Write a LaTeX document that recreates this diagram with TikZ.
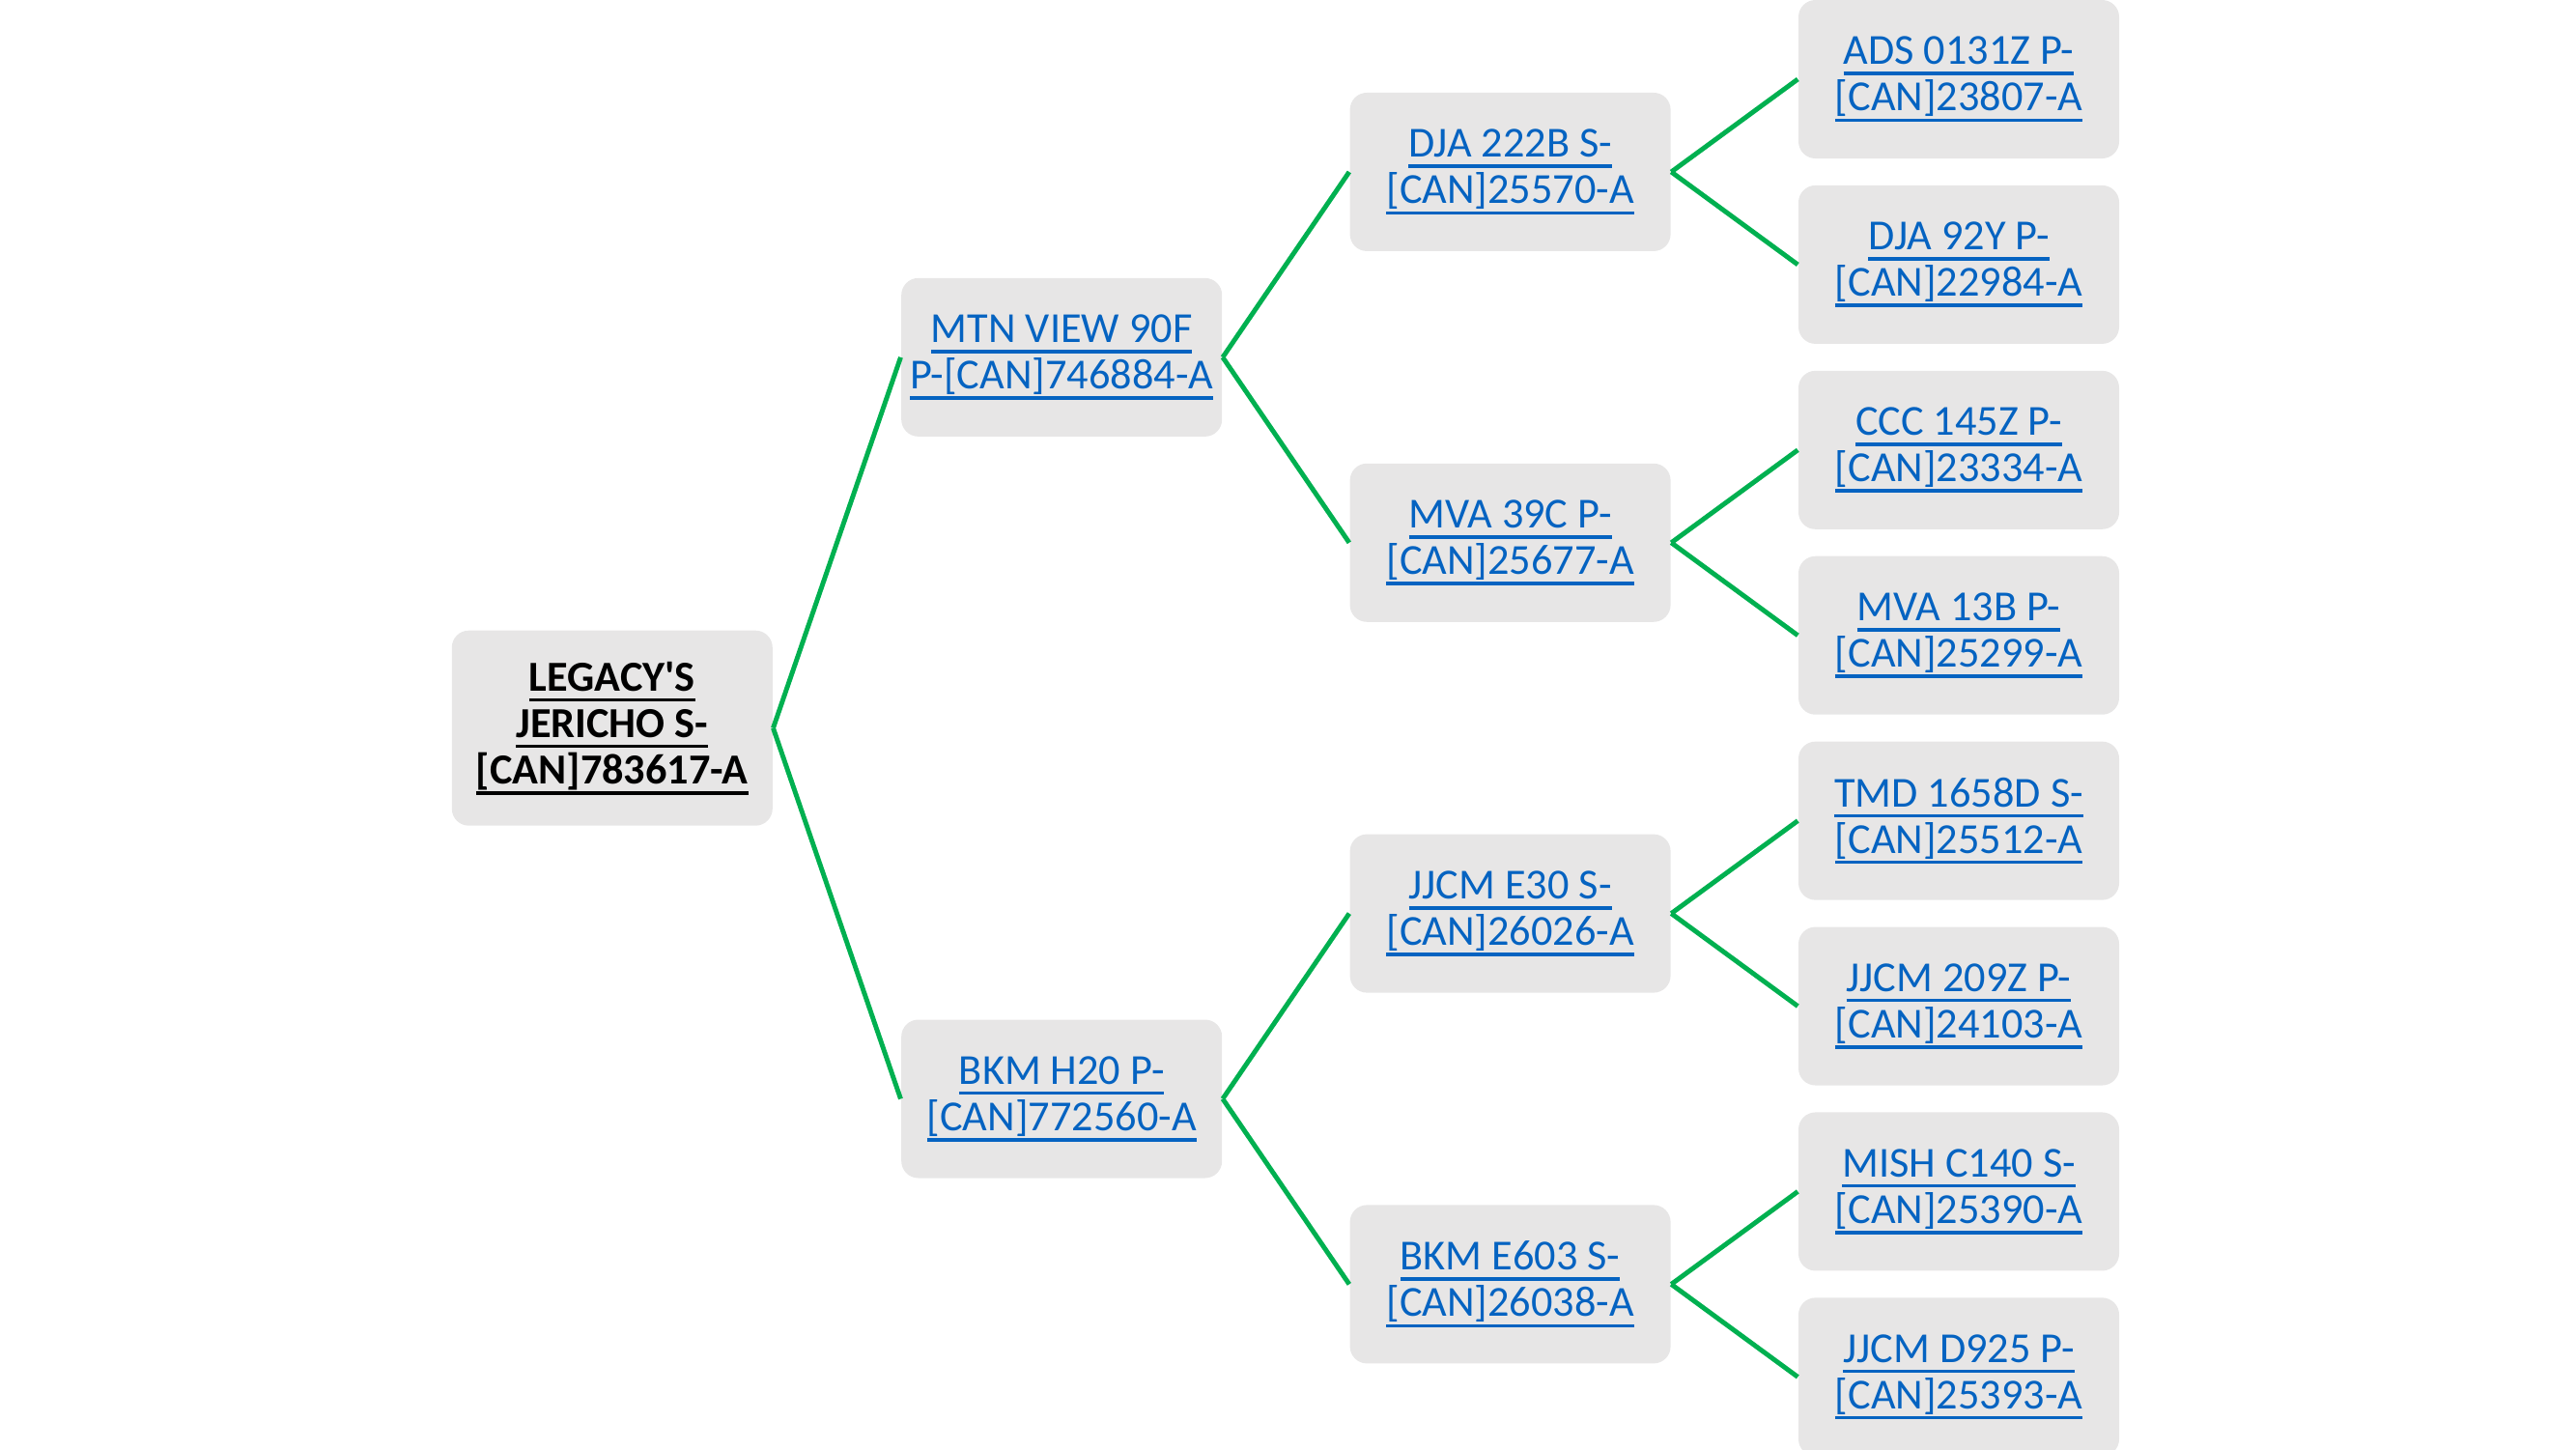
\documentclass[tikz,border=0pt]{standalone}
\usepackage{fontspec}
\setmainfont{Carlito}
\usetikzlibrary{positioning,calc}
\definecolor{boxfill}{RGB}{231,230,230}
\definecolor{linkblue}{RGB}{5,99,193}
\definecolor{branch}{RGB}{0,176,80}
\newsavebox{\ulbox}
\newcommand{\ulk}[1]{\sbox{\ulbox}{#1}\rlap{\rule[-3.2pt]{\wd\ulbox}{1pt}}\usebox{\ulbox}}
\tikzset{
  member/.style ={rectangle, rounded corners=5pt, fill=boxfill, align=center,
                  minimum width=33.2mm, minimum height=16.4mm, inner sep=0pt,
                  font=\fontsize{12.6}{13.7}\selectfont, text=linkblue},
  sire/.style   ={member, minimum height=20.2mm, text=black,
                  font=\fontsize{12.6}{13.7}\selectfont\bfseries},
  link/.style   ={draw=branch, line width=1.4pt},
}
\begin{document}
\begin{tikzpicture}
    \useasboundingbox (0,0) rectangle (26.67,-15);

    % great-grandparents
    \node[member] at (20.28,-0.82) (c1) {\ulk{ADS 0131Z P-}\\\ulk{[CAN]23807-A}};
    \node[member, below=2.65mm of c1] (c2) {\ulk{DJA 92Y P-}\\\ulk{[CAN]22984-A}};
    \node[member, below=2.65mm of c2] (c3) {\ulk{CCC 145Z P-}\\\ulk{[CAN]23334-A}};
    \node[member, below=2.65mm of c3] (c4) {\ulk{MVA 13B P-}\\\ulk{[CAN]25299-A}};
    \node[member, below=2.65mm of c4] (c5) {\ulk{TMD 1658D S-}\\\ulk{[CAN]25512-A}};
    \node[member, below=2.65mm of c5] (c6) {\ulk{JJCM 209Z P-}\\\ulk{[CAN]24103-A}};
    \node[member, below=2.65mm of c6] (c7) {\ulk{MISH C140 S-}\\\ulk{[CAN]25390-A}};
    \node[member, below=2.65mm of c7] (c8) {\ulk{JJCM D925 P-}\\\ulk{[CAN]25393-A}};

    % grandparents
    \coordinate (m1) at ($(c1.west)!.5!(c2.west)$);
    \coordinate (m2) at ($(c3.west)!.5!(c4.west)$);
    \coordinate (m3) at ($(c5.west)!.5!(c6.west)$);
    \coordinate (m4) at ($(c7.west)!.5!(c8.west)$);
    \node[member, left=13.1mm of m1] (b1) {\ulk{DJA 222B S-}\\\ulk{[CAN]25570-A}};
    \node[member, left=13.1mm of m2] (b2) {\ulk{MVA 39C P-}\\\ulk{[CAN]25677-A}};
    \node[member, left=13.1mm of m3] (b3) {\ulk{JJCM E30 S-}\\\ulk{[CAN]26026-A}};
    \node[member, left=13.1mm of m4] (b4) {\ulk{BKM E603 S-}\\\ulk{[CAN]26038-A}};

    % parents
    \coordinate (n1) at ($(b1.west)!.5!(b2.west)$);
    \coordinate (n2) at ($(b3.west)!.5!(b4.west)$);
    \node[member, left=13.1mm of n1] (a1) {\ulk{MTN VIEW 90F}\\\ulk{P-[CAN]746884-A}};
    \node[member, left=13.1mm of n2] (a2) {\ulk{BKM H20 P-}\\\ulk{[CAN]772560-A}};

    % dog
    \coordinate (r) at ($(a1.west)!.5!(a2.west)$);
    \node[sire, left=13.2mm of r] (root) {\ulk{LEGACY\textquotesingle S}\\\ulk{JERICHO S-}\\\ulk{[CAN]783617-A}};

    \foreach \p/\c in {root/a1,root/a2,a1/b1,a1/b2,a2/b3,a2/b4,
                       b1/c1,b1/c2,b2/c3,b2/c4,b3/c5,b3/c6,b4/c7,b4/c8}
        \draw[link] (\p.east) -- (\c.west);
\end{tikzpicture}
\end{document}
